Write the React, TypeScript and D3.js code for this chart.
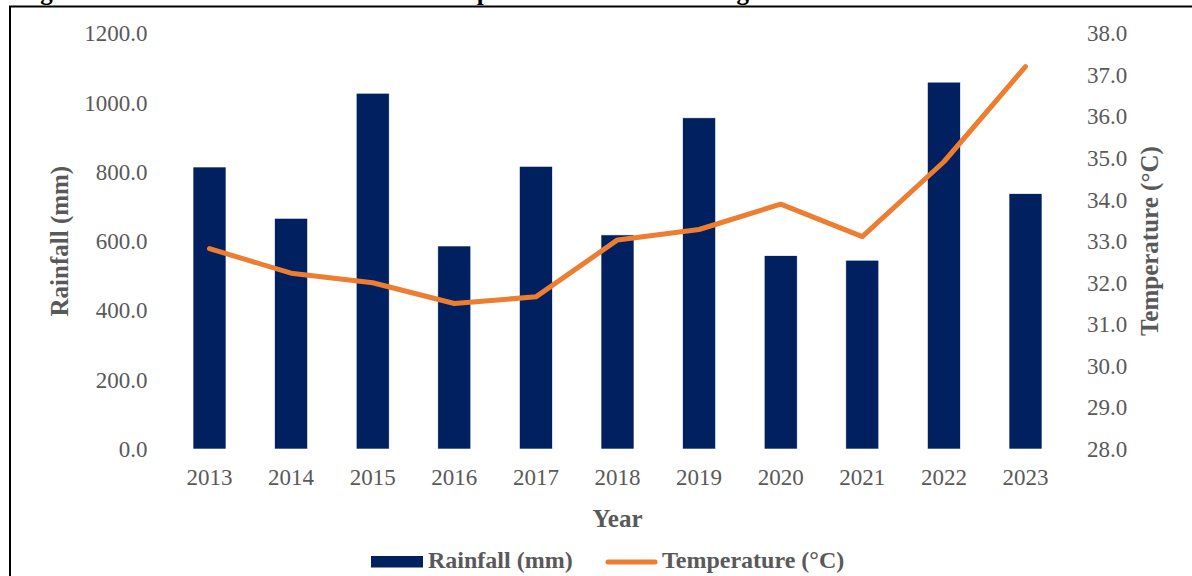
import React from "react";
import * as d3 from "d3";

const years = ["2013","2014","2015","2016","2017","2018","2019","2020","2021","2022","2023"];
const rainfall = [814, 666, 1027, 586, 816, 618, 956, 558, 545, 1059, 737];
const temperature = [32.82, 32.23, 32.0, 31.5, 31.66, 33.03, 33.28, 33.89, 33.11, 34.91, 37.2];
const rainTicks = [0, 200, 400, 600, 800, 1000, 1200];
const tempTicks = [28, 29, 30, 31, 32, 33, 34, 35, 36, 37, 38];
const titleText = "Figure 4.1: Mean Annual Rainfall and Temperatures within the range over the last decade";

const NAVY = "#002060";
const ORANGE = "#ED7D31";
const GREY = "#595959";
const FONT = "'Liberation Serif', 'Times New Roman', serif";

export default function App() {
  const W = 1192, H = 576;
  const x = d3.scaleBand<string>().domain(years).range([168.7, 1066.3]).paddingInner(0.596).paddingOuter(0.298);
  const yL = d3.scaleLinear().domain([0, 1200]).range([449, 33.3]);
  const yR = d3.scaleLinear().domain([28, 38]).range([449, 33.3]);
  const cx = (y: string) => (x(y) as number) + x.bandwidth() / 2;
  const line = d3.line<number>().x((_, i) => cx(years[i])).y((d) => yR(d));
  const fmt = d3.format(".1f");

  return (
    <svg width={W} height={H} style={{ position: "absolute", left: 0, top: 0, background: "#fff" }} fontFamily={FONT}>
      <rect x={0} y={0} width={W} height={H} fill="#fff" />
      <text x={18} y={-0.5} fontSize={25} fontWeight="bold" fill="#000">{titleText}</text>
      <rect x={10} y={6.5} width={W + 20} height={H + 20} fill="none" stroke="#000" strokeWidth={2} />
      {years.map((yr, i) => (
        <rect key={yr} x={x(yr)} y={yL(rainfall[i])} width={x.bandwidth()} height={yL(0) - yL(rainfall[i])}
          fill={NAVY} stroke="#ffffff" strokeWidth={0.6} />
      ))}
      <path d={line(temperature) || ""} fill="none" stroke={ORANGE} strokeWidth={5} strokeLinecap="round" strokeLinejoin="round" />
      {rainTicks.map((t) => (
        <text key={t} x={147.5} y={yL(t) + 8} textAnchor="end" fontSize={23} fill={GREY}>{fmt(t)}</text>
      ))}
      {tempTicks.map((t) => (
        <text key={t} x={1087} y={yR(t) + 8} textAnchor="start" fontSize={23} fill={GREY}>{fmt(t)}</text>
      ))}
      {years.map((yr) => (
        <text key={yr} x={cx(yr)} y={485} textAnchor="middle" fontSize={23} fill={GREY}>{yr}</text>
      ))}
      <text transform={`translate(68,${(yL(0) + yL(1200)) / 2}) rotate(-90)`} textAnchor="middle" fontSize={25} fontWeight="bold" fill={GREY}>Rainfall (mm)</text>
      <text transform={`translate(1158,${(yL(0) + yL(1200)) / 2}) rotate(-90)`} textAnchor="middle" fontSize={25} fontWeight="bold" fill={GREY}>Temperature (°C)</text>
      <text x={(x.range()[0] + x.range()[1]) / 2} y={527} textAnchor="middle" fontSize={25} fontWeight="bold" fill={GREY}>Year</text>
      <rect x={371} y={556} width={52} height={11.5} fill={NAVY} />
      <text x={428} y={568} fontSize={24} fontWeight="bold" fill={GREY}>Rainfall (mm)</text>
      <line x1={608} x2={655} y1={562} y2={562} stroke={ORANGE} strokeWidth={5} strokeLinecap="round" />
      <text x={662} y={568} fontSize={24} fontWeight="bold" fill={GREY}>Temperature (°C)</text>
    </svg>
  );
}
